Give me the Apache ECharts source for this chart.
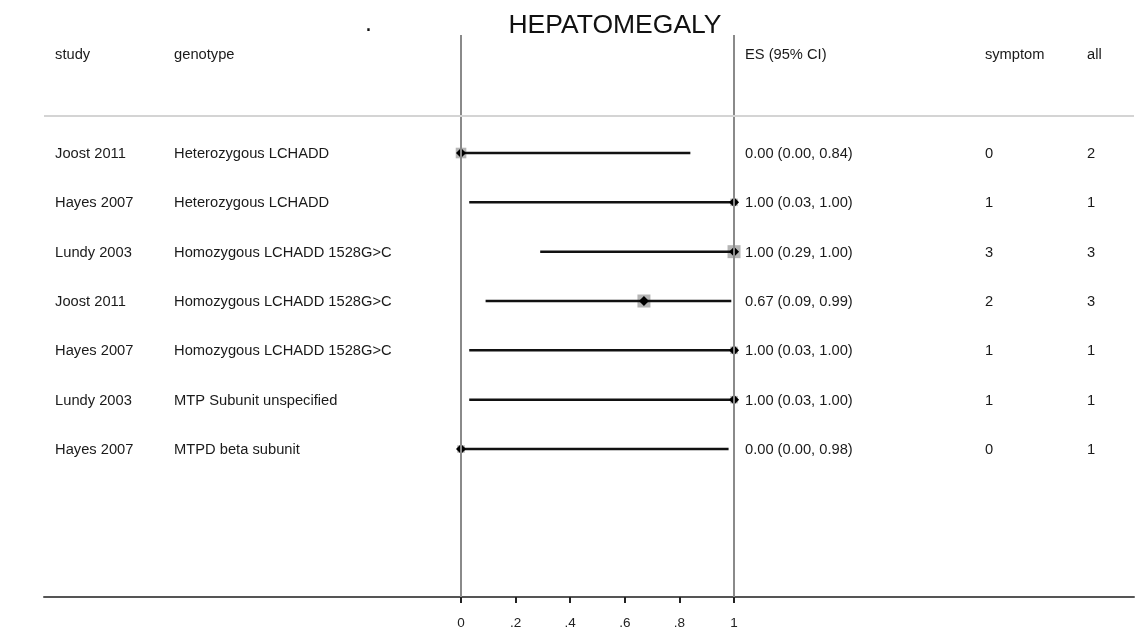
<!DOCTYPE html>
<html>
<head>
<meta charset="utf-8">
<script src="https://cdn.jsdelivr.net/npm/echarts@6/dist/echarts.min.js"></script>
<style>html,body{margin:0;padding:0;background:#fff}#c{width:1148px;height:639px}</style>
</head>
<body>
<div id="c"></div>
<script>
const titleText = 'HEPATOMEGALY';
const headers = ['study', 'genotype', 'ES (95% CI)', 'symptom', 'all'];
const studies = ['Joost 2011', 'Hayes 2007', 'Lundy 2003', 'Joost 2011', 'Hayes 2007', 'Lundy 2003', 'Hayes 2007'];
const genotypes = ['Heterozygous LCHADD', 'Heterozygous LCHADD', 'Homozygous LCHADD 1528G>C', 'Homozygous LCHADD 1528G>C', 'Homozygous LCHADD 1528G>C', 'MTP Subunit unspecified', 'MTPD beta subunit'];
const es = [0.00, 1.00, 1.00, 0.67, 1.00, 1.00, 0.00];
const ciLow = [0.00, 0.03, 0.29, 0.09, 0.03, 0.03, 0.00];
const ciHigh = [0.84, 1.00, 1.00, 0.99, 1.00, 1.00, 0.98];
const symptom = [0, 1, 3, 2, 1, 1, 0];
const allN = [2, 1, 3, 3, 1, 1, 1];
const xTicks = [0, 0.2, 0.4, 0.6, 0.8, 1];
const xTickLabels = ['0', '.2', '.4', '.6', '.8', '1'];

// column positions in axis (data) units
const COL = { study: -1.487, genotype: -1.051, es: 1.040, symptom: 1.919, all: 2.293 };
const FONT = 'Liberation Sans, Arial, sans-serif';
const FS = 14.7;

const chart = echarts.init(document.getElementById('c'), null, { renderer: 'canvas' });

const rowData = es.map((v, i) => [ciLow[i], ciHigh[i], v, i, allN[i]]);

function esLabel(i) {
  return es[i].toFixed(2) + ' (' + ciLow[i].toFixed(2) + ', ' + ciHigh[i].toFixed(2) + ')';
}

function txt(x, y, s) {
  return { type: 'text', x: x, y: y + 1, style: { text: s, fill: '#1a1a1a', font: FS + 'px ' + FONT, textAlign: 'left', textVerticalAlign: 'middle' } };
}

const option = {
  animation: false,
  backgroundColor: '#fff',
  grid: { left: 44, right: 14, top: 35, bottom: 42 },
  xAxis: {
    type: 'value', min: -1.5275, max: 2.465,
    splitLine: { show: false },
    axisLine: { show: true, onZero: false, lineStyle: { color: '#555', width: 2 } },
    axisTick: { show: true, customValues: xTicks, length: 6, lineStyle: { color: '#222', width: 2 } },
    axisLabel: { customValues: xTicks, margin: 19, color: '#222', fontSize: 13.5, fontFamily: FONT,
      formatter: v => { const k = xTicks.findIndex(t => Math.abs(t - v) < 1e-9); return k >= 0 ? xTickLabels[k] : ''; } }
  },
  yAxis: { type: 'value', inverse: true, min: -2.392, max: 9, show: false },
  graphic: [
    { type: 'text', x: 615, y: 12, style: { text: titleText, font: '26.5px ' + FONT, fill: '#111', textAlign: 'center' } },
    { type: 'text', x: 365, y: 12, style: { text: '.', font: '25px ' + FONT, fill: '#111' } }
  ],
  series: [
    {
      type: 'scatter', data: [], z: 1, silent: true,
      markLine: {
        silent: true, symbol: 'none', label: { show: false },
        data: [
          { xAxis: 0, lineStyle: { color: '#8a8a8a', width: 2, type: 'solid' } },
          { xAxis: 1, lineStyle: { color: '#8a8a8a', width: 2, type: 'solid' } },
          { yAxis: -0.75, lineStyle: { color: '#d4d4d4', width: 2, type: 'solid' } }
        ]
      }
    },
    {
      type: 'custom', z: 3, silent: true,
      data: rowData,
      renderItem: function (params, api) {
        const i = api.value(3);
        const p0 = api.coord([api.value(0), i]);
        const p1 = api.coord([api.value(1), i]);
        const pe = api.coord([api.value(2), i]);
        const side = 7.5 * Math.sqrt(api.value(4));
        const d = 5;
        const y = pe[1];
        const cx = c => api.coord([c, i])[0];
        return {
          type: 'group',
          children: [
            { type: 'rect', shape: { x: pe[0] - side / 2, y: y - side / 2, width: side, height: side }, style: { fill: '#b5b5b5' } },
            { type: 'line', shape: { x1: p0[0], y1: y, x2: p1[0], y2: y }, style: { stroke: '#111', lineWidth: 2.5 } },
            { type: 'polygon', shape: { points: [[pe[0] - d, y], [pe[0], y - d], [pe[0] + d, y], [pe[0], y + d]] }, style: { fill: '#000' } },
            txt(cx(COL.study), y, studies[i]),
            txt(cx(COL.genotype), y, genotypes[i]),
            txt(cx(COL.es), y, esLabel(i)),
            txt(cx(COL.symptom), y, String(symptom[i])),
            txt(cx(COL.all), y, String(allN[i]))
          ]
        };
      }
    },
    {
      type: 'custom', z: 3, silent: true,
      data: [[-2]],
      renderItem: function (params, api) {
        const r = api.value(0);
        const keys = ['study', 'genotype', 'es', 'symptom', 'all'];
        return {
          type: 'group',
          children: keys.map((k, j) => { const p = api.coord([COL[k], r]); return txt(p[0], p[1], headers[j]); })
        };
      }
    }
  ]
};
chart.setOption(option);
</script>
</body>
</html>
